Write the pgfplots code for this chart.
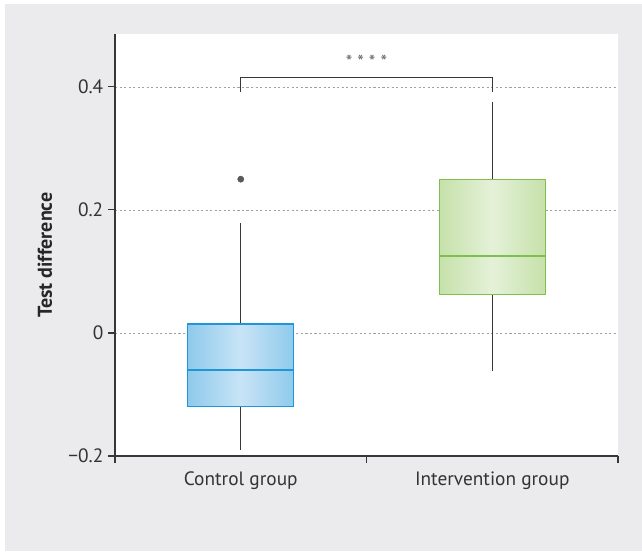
\documentclass[border=0pt]{standalone}
\usepackage{pgfplots}
\pgfplotsset{compat=1.18}
\usepackage{fontspec}
\setmainfont{PT Sans}
\definecolor{bggray}{RGB}{235,235,237}
\definecolor{axgray}{RGB}{55,55,55}
\definecolor{gridgray}{RGB}{160,160,160}
\definecolor{bEdge}{RGB}{143,202,236}
\definecolor{bMid}{RGB}{200,228,246}
\definecolor{bLine}{RGB}{30,150,215}
\definecolor{gEdge}{RGB}{198,225,170}
\definecolor{gMid}{RGB}{228,241,216}
\definecolor{gLine}{RGB}{128,190,80}
\begin{document}
\begin{tikzpicture}
\path[use as bounding box] (-86.25pt,-71.25pt) rectangle (395.25pt,342pt);
\fill[bggray] (-82.5pt,-71.25pt) rectangle (395.25pt,339pt);
\begin{axis}[
  at={(0,0)}, anchor=south west,
  scale only axis, width=377.25pt, height=316.5pt,
  xmin=0.5, xmax=2.5, ymin=-0.2, ymax=0.486,
  axis x line*=bottom, axis y line*=left,
  axis line style={draw=axgray, line width=0.8pt},
  axis background/.style={fill=white},
  xtick={1,2}, xticklabels={Control group, Intervention group},
  major x tick style={draw=none},
  minor xtick={0.5,1.5,2.5},
  minor x tick style={draw=axgray, line width=0.8pt},
  minor tick length=5.25pt,
  ytick={-0.2,0,0.2,0.4}, yticklabels={−0.2,0,0.2,0.4},
  y tick style={draw=axgray, line width=0.8pt},
  tick align=outside, major tick length=5.25pt,
  ymajorgrids, grid style={draw=gridgray, line width=0.6pt, dash pattern=on 1.6pt off 1.8pt},
  tick label style={font=\fontsize{14.5}{16}\selectfont, text=black!80},
  xticklabel style={yshift=-3pt},
  ylabel={\bfseries Test difference},
  every axis y label/.style={at={(axis description cs:0,0.476)}, xshift=-52.5pt, rotate=90, anchor=center, font=\fontsize{15}{16}\selectfont, text=black!85},
  clip=false,
]
% Control group
\addplot[draw=axgray, line width=0.8pt, mark=none] coordinates {(1,-0.190) (1,-0.119)};
\addplot[draw=axgray, line width=0.8pt, mark=none] coordinates {(1,0.0146) (1,0.179)};
\addplot[draw=bLine, line width=0.8pt, mark=none, left color=bEdge, right color=bEdge, middle color=bMid]
  coordinates {(0.79,-0.119) (1.21,-0.119) (1.21,0.0146) (0.79,0.0146)} -- cycle;
\addplot[draw=bLine, line width=1.9pt, mark=none] coordinates {(0.79,-0.060) (1.21,-0.060)};
\addplot[only marks, mark=*, mark size=2.3pt, mark options={fill=black!65, draw=black!65}] coordinates {(1,0.250)};
% Intervention group
\addplot[draw=axgray, line width=0.8pt, mark=none] coordinates {(2,-0.062) (2,0.062)};
\addplot[draw=axgray, line width=0.8pt, mark=none] coordinates {(2,0.249) (2,0.376)};
\addplot[draw=gLine, line width=0.8pt, mark=none, left color=gEdge, right color=gEdge, middle color=gMid]
  coordinates {(1.79,0.062) (2.21,0.062) (2.21,0.249) (1.79,0.249)} -- cycle;
\addplot[draw=gLine, line width=1.9pt, mark=none] coordinates {(1.79,0.125) (2.21,0.125)};
% significance bracket
\addplot[draw=axgray, line width=0.8pt, mark=none] coordinates {(1,0.392) (1,0.416) (2,0.416) (2,0.392)};
\node[text=black!60, font=\fontsize{14}{14}\selectfont] at (axis cs:1.5,0.441) {* * * *};
\end{axis}
\end{tikzpicture}
\end{document}
